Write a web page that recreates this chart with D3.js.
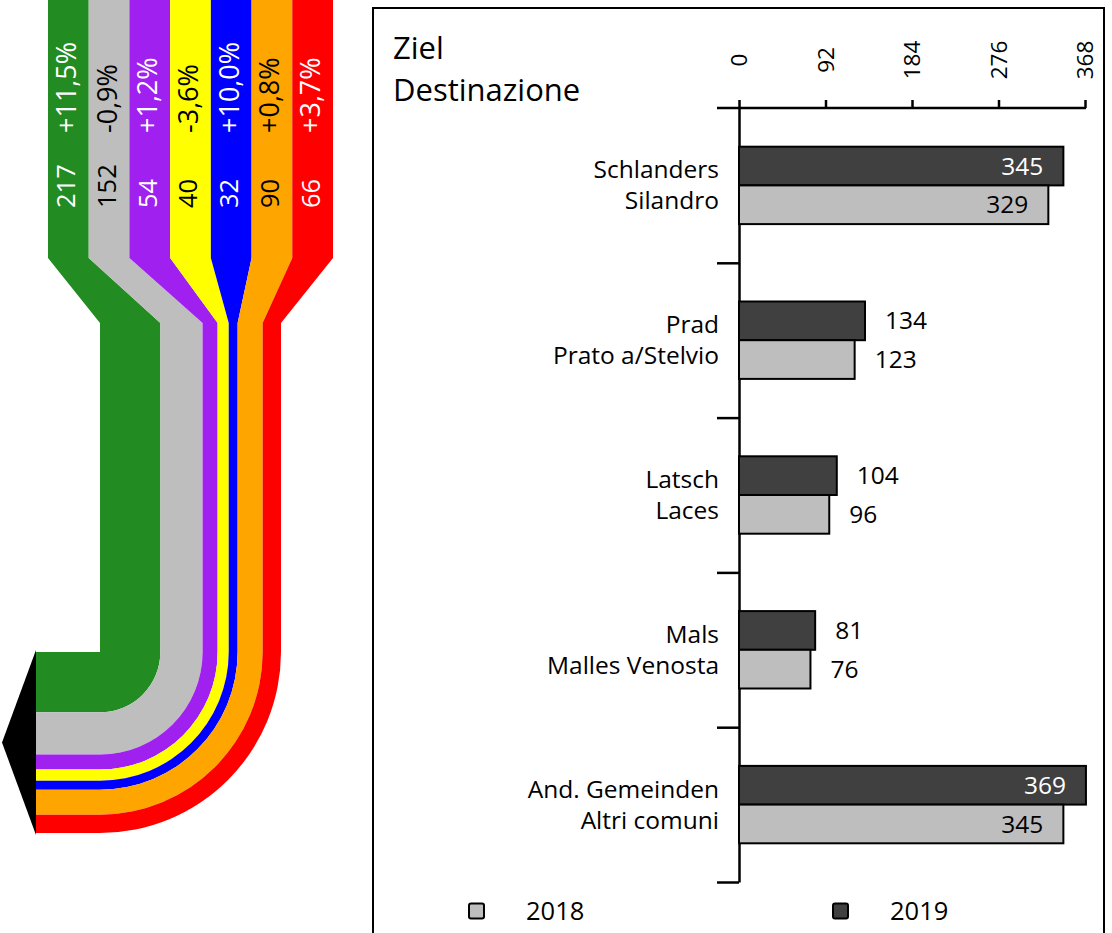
<!DOCTYPE html>
<html>
<head>
<meta charset="utf-8">
<script src="https://cdn.jsdelivr.net/npm/d3@7"></script>
<style>
  body { margin: 0; background: #fff; }
  svg { display: block; font-family: "Open Sans", sans-serif; }
</style>
</head>
<body>
<svg id="chart" width="1112" height="933"></svg>
<script>
// --- Data ---
// Flow streams (left): commuters 2019 and change vs 2018
const flowValues = [217, 152, 54, 40, 32, 90, 66];
const flowChanges = ["+11,5%", "-0,9%", "+1,2%", "-3,6%", "+10,0%", "+0,8%", "+3,7%"];
const flowColors = ["#228B22", "#BEBEBE", "#A020F0", "#FFFF00", "#0000FF", "#FFA500", "#FF0000"];
const flowTextColors = ["#fff", "#000", "#fff", "#000", "#fff", "#000", "#fff"];

// Bars (right): destination municipalities
const destDe = ["Schlanders", "Prad", "Latsch", "Mals", "And. Gemeinden"];
const destIt = ["Silandro", "Prato a/Stelvio", "Laces", "Malles Venosta", "Altri comuni"];
const values2019 = [345, 134, 104, 81, 369];
const values2018 = [329, 123, 96, 76, 345];
const years = ["2018", "2019"];
const axisTicks = [0, 92, 184, 276, 368];
const titleLines = ["Ziel", "Destinazione"];

const barColors = { "2018": "#BEBEBE", "2019": "#404040" };

const svg = d3.select("#chart");

// --- 1. Flow diagram ---
const flowKeys = flowValues.map((d, i) => i);
const colX = d3.scaleBand().domain(flowKeys).range([48, 333]);
const total = d3.sum(flowValues);
const thick = d3.scaleLinear().domain([0, total]).range([0, 181]);
const cum = [0, ...d3.cumsum(flowValues)];

const topEnd = 258, neckY = 323, bendY = 652, cx0 = 100, leftX = 36;

const flowG = svg.append("g");

flowG.selectAll("path.flow")
  .data(flowKeys)
  .join("path")
  .attr("class", "flow")
  .attr("fill", i => flowColors[i])
  .attr("d", i => {
    const x0 = colX(i), x1 = colX(i) + colX.bandwidth();
    const r0 = thick(cum[i]), r1 = thick(cum[i + 1]);
    const a0 = cx0 + r0, a1 = cx0 + r1;
    const p = d3.path();
    p.moveTo(x0, 0);
    p.lineTo(x1, 0);
    p.lineTo(x1, topEnd);
    p.lineTo(a1, neckY);
    p.lineTo(a1, bendY);
    p.arc(cx0, bendY, r1, 0, Math.PI / 2, false);
    p.lineTo(leftX, bendY + r1);
    p.lineTo(leftX, bendY + r0);
    p.lineTo(cx0, bendY + r0);
    if (r0 > 0) p.arc(cx0, bendY, r0, Math.PI / 2, 0, true);
    p.lineTo(a0, neckY);
    p.lineTo(x0, topEnd);
    p.closePath();
    return p.toString();
  });

// arrow head
flowG.append("path")
  .attr("fill", "#000")
  .attr("d", `M${leftX},${bendY - 2}L2,${bendY + thick(total) / 2}L${leftX},${bendY + thick(total) + 2}Z`);

// column labels
const colLabels = flowG.selectAll("g.col-label")
  .data(flowKeys)
  .join("g")
  .attr("class", "col-label")
  .attr("fill", i => flowTextColors[i]);

colLabels.append("text")
  .attr("transform", i => `translate(${colX(i) + colX.bandwidth() / 2 - 2},208) rotate(-90)`)
  .attr("dy", "0.35em")
  .style("font-size", "25.5px")
  .text(i => flowValues[i]);

colLabels.append("text")
  .attr("transform", i => `translate(${colX(i) + colX.bandwidth() / 2 - 2},133) rotate(-90)`)
  .attr("dy", "0.35em")
  .style("font-size", "27px")
  .text(i => flowChanges[i]);

// --- 2. Bar chart panel ---
svg.append("rect")
  .attr("x", 373).attr("y", 8)
  .attr("width", 731).attr("height", 1000)
  .attr("fill", "none").attr("stroke", "#000").attr("stroke-width", 2);

// two-line title
svg.selectAll("text.title")
  .data(titleLines)
  .join("text")
  .attr("class", "title")
  .attr("x", 393)
  .attr("y", (d, i) => i === 0 ? 58.5 : 101)
  .style("font-size", "31px")
  .text(d => d);

const x = d3.scaleLinear().domain([0, 368]).range([739, 1085]);
const y = d3.scaleBand().domain(destDe).range([108, 882])
  .paddingInner(0.5).paddingOuter(0.25);
const ySub = d3.scaleBand().domain(["2019", "2018"]).range([0, y.bandwidth()]);

// top axis
const xAxisG = svg.append("g")
  .attr("transform", "translate(0,108)")
  .call(d3.axisTop(x).tickValues(axisTicks).tickSize(8).tickSizeOuter(0));
xAxisG.select(".domain").remove();
xAxisG.selectAll(".tick line").attr("stroke", "#000").attr("stroke-width", 2.5);
xAxisG.selectAll(".tick text")
  .attr("y", 0).attr("dy", "0.35em")
  .attr("transform", "translate(0,-48) rotate(-90)")
  .attr("text-anchor", "middle")
  .attr("fill", "#000")
  .style("font-size", "22.5px")
  .style("font-family", "'Open Sans', sans-serif");
xAxisG.append("line")
  .attr("x1", x(0) - 22).attr("x2", x(368) + 1)
  .attr("stroke", "#000").attr("stroke-width", 2.5);

// left axis: ticks between groups
const yEdge = d3.scaleLinear().domain([0, destDe.length]).range([108, 882]);
const yAxisG = svg.append("g")
  .attr("transform", `translate(${x(0)},0)`)
  .call(d3.axisLeft(yEdge).tickValues(d3.range(1, destDe.length + 1)).tickSize(22).tickSizeOuter(0).tickFormat(""));
yAxisG.select(".domain").attr("stroke", "#000").attr("stroke-width", 2.5);
yAxisG.selectAll(".tick line").attr("stroke", "#000").attr("stroke-width", 2.5);

// bars
const rows = destDe.map((d, i) => ({ de: d, it: destIt[i], v2019: values2019[i], v2018: values2018[i] }));
const groups = svg.selectAll("g.dest")
  .data(rows)
  .join("g")
  .attr("class", "dest")
  .attr("transform", d => `translate(0,${y(d.de)})`);

groups.each(function (d) {
  const g = d3.select(this);
  const bars = [{ year: "2019", v: d.v2019 }, { year: "2018", v: d.v2018 }];
  g.selectAll("rect")
    .data(bars)
    .join("rect")
    .attr("x", x(0))
    .attr("y", b => ySub(b.year))
    .attr("width", b => x(b.v) - x(0))
    .attr("height", ySub.bandwidth())
    .attr("fill", b => barColors[b.year])
    .attr("stroke", "#000")
    .attr("stroke-width", 2);

  g.selectAll("text.val")
    .data(bars)
    .join("text")
    .attr("class", "val")
    .attr("y", b => ySub(b.year) + ySub.bandwidth() / 2)
    .attr("dy", "0.35em")
    .style("font-size", "24.5px")
    .each(function (b) {
      const inside = b.v > 300;
      d3.select(this)
        .attr("x", inside ? x(b.v) - 20 : x(b.v) + 20)
        .attr("text-anchor", inside ? "end" : "start")
        .attr("fill", inside && b.year === "2019" ? "#fff" : "#000")
        .text(b.v);
    });

  const mid = y.bandwidth() / 2;
  g.append("text").attr("x", 719).attr("y", mid - 7)
    .attr("text-anchor", "end").style("font-size", "24.5px").text(d.de);
  g.append("text").attr("x", 719).attr("y", mid + 24)
    .attr("text-anchor", "end").style("font-size", "24.5px").text(d.it);
});

// legend
const legendX = d3.scaleOrdinal().domain(years).range([469, 833]);
const legend = svg.selectAll("g.legend-item")
  .data(years)
  .join("g")
  .attr("class", "legend-item")
  .attr("transform", d => `translate(${legendX(d)},911)`);
legend.append("rect")
  .attr("x", 0).attr("y", -7.5)
  .attr("width", 15).attr("height", 15)
  .attr("rx", 2)
  .attr("fill", d => barColors[d])
  .attr("stroke", "#000").attr("stroke-width", 2);
legend.append("text")
  .attr("x", 57)
  .attr("dy", "0.35em")
  .style("font-size", "25.5px")
  .text(d => d);
</script>
</body>
</html>
